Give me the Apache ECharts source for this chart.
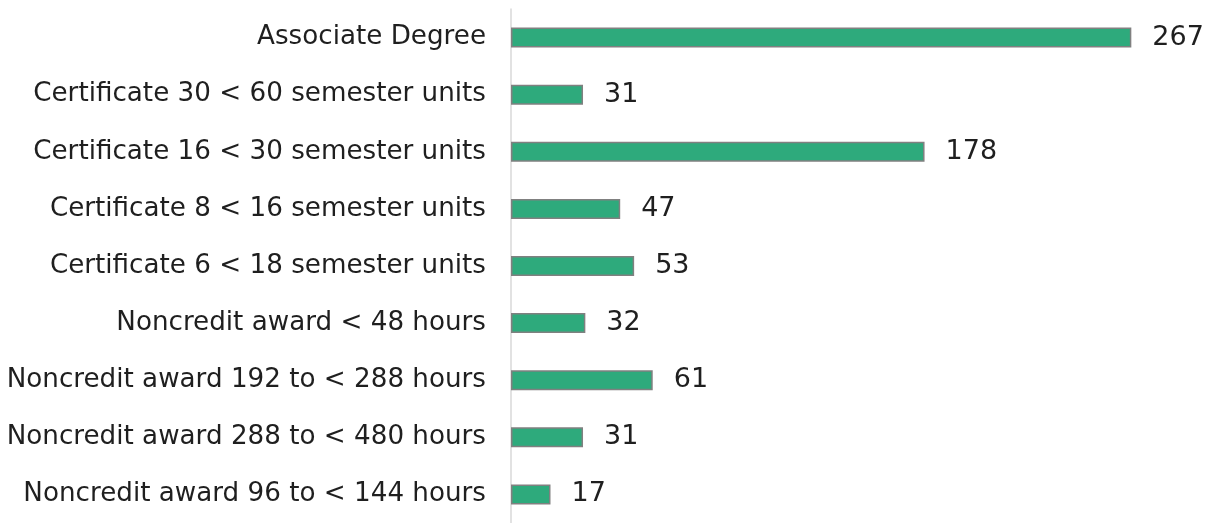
<!DOCTYPE html>
<html>
<head>
<meta charset="utf-8">
<script src="https://cdn.jsdelivr.net/npm/echarts@6/dist/echarts.min.js"></script>
<style>
  html, body { margin: 0; padding: 0; background: #fff; }
  #chart { width: 1212px; height: 523px; }
</style>
</head>
<body>
<div id="chart"></div>
<script>
// 类别（自上而下）
const categories = [
    'Associate Degree',
    'Certificate 30 < 60 semester units',
    'Certificate 16 < 30 semester units',
    'Certificate 8 < 16 semester units',
    'Certificate 6 < 18 semester units',
    'Noncredit award < 48 hours',
    'Noncredit award 192 to < 288 hours',
    'Noncredit award 288 to < 480 hours',
    'Noncredit award 96 to < 144 hours'
];
const counts = [267, 31, 178, 47, 53, 32, 61, 31, 17];

const chart = echarts.init(document.getElementById('chart'));
chart.setOption({
    animation: false,
    grid: { left: 511, right: 4, top: 9, bottom: -3, containLabel: false },
    xAxis: {
        type: 'value', min: 0, max: 300,
        show: false
    },
    yAxis: {
        type: 'category', data: categories, inverse: true,
        axisLine: { show: true, lineStyle: { color: '#d9d9d9', width: 1.5 } },
        axisTick: { show: false },
        axisLabel: { margin: 25, fontFamily: 'DejaVu Sans', fontSize: 26.2, color: '#1f1f1f' }
    },
    series: [{
        type: 'bar', data: counts, barWidth: 20,
        itemStyle: { color: '#2eaa7c', borderColor: '#808080', borderWidth: 1.5 },
        label: { show: true, position: 'right', distance: 21, fontFamily: 'DejaVu Sans', fontSize: 27, color: '#1f1f1f' }
    }]
});
</script>
</body>
</html>
